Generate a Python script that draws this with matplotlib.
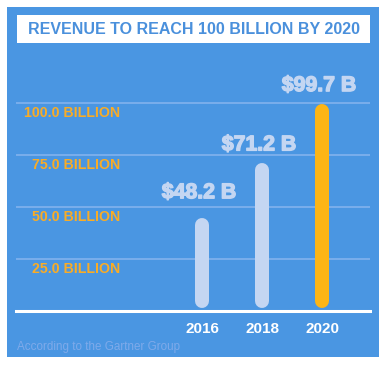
import matplotlib.pyplot as plt
import matplotlib.patches as mpatches
import matplotlib.transforms as mtransforms
import matplotlib.patheffects as pe

years = ['2016', '2018', '2020']
values = [48.2, 71.2, 99.7]          # values printed above the bars
bar_heights = [44.7, 71.2, 99.7]     # heights the bars are drawn to
value_labels = ['$48.2 B', '$71.2 B', '$99.7 B']
grid_values = [25, 50, 75, 100]
grid_labels = ['25.0 BILLION', '50.0 BILLION', '75.0 BILLION', '100.0 BILLION']

_blue = '#4a96e2'
_bar_colors = ['#c4d6f2', '#c4d6f2', '#fdb515']
_orange = '#f9ac26'

plt.rcParams['font.family'] = ['Liberation Sans', 'DejaVu Sans']

W, H = 386, 365
fig = plt.figure(figsize=(W / 100, H / 100), dpi=100, facecolor='white')


def px(x0, y0, x1, y1):
    # pixel box (top-left origin) -> figure fraction rect
    return [x0 / W, 1 - y1 / H, (x1 - x0) / W, (y1 - y0) / H]


# background panel and title box
r = px(7, 7, 379, 357)
fig.patches.append(mpatches.Rectangle((r[0], r[1]), r[2], r[3], transform=fig.transFigure,
                                      facecolor=_blue, edgecolor='none', zorder=-2))
r = px(17, 15, 370, 43)
fig.patches.append(mpatches.Rectangle((r[0], r[1]), r[2], r[3], transform=fig.transFigure,
                                      facecolor='white', edgecolor='none', zorder=-1))
fig.text((17 + 370) / 2 / W, 1 - 29.5 / H, 'REVENUE TO REACH 100 BILLION BY 2020',
         ha='center', va='center', color='#4a90dc', fontsize=11.5, fontweight='bold')

# chart area: baseline at y=311 px, 2.08 px per billion
ax = fig.add_axes(px(16, 80, 370, 311))
ax.set_zorder(5)
ax.set_facecolor('none')
ymax = (311 - 80) / 2.08
ax.set_ylim(0, ymax)
ax.set_xlim((16 - 202) / 60, (370 - 202) / 60)
for s in ax.spines.values():
    s.set_visible(False)

for g in grid_values:
    ax.axhline(g, color='#7db0ec', linewidth=1.3, zorder=1)
ax.axhline(0, color='white', linewidth=2.2, zorder=3, clip_on=False)

# gridline labels sit just under each line, right-aligned
lab_tr = mtransforms.offset_copy(ax.transData, fig=fig, x=0, y=-10, units='dots')
for g, lab in zip(grid_values, grid_labels):
    ax.text((120 - 202) / 60, g, lab, transform=lab_tr, ha='right', va='center',
            color=_orange, fontsize=10.2, fontweight='bold', zorder=4)

# bars as thick round-capped lines
lw_px = 14
cap = (lw_px / 2) / 2.08
for i, (h, c) in enumerate(zip(bar_heights, _bar_colors)):
    ax.plot([i, i], [1.4 + cap, h - cap], color=c, linewidth=lw_px * 0.72,
            solid_capstyle='round', zorder=2)

# value labels (heavier look via a thin stroke)
for i, (v, lab) in enumerate(zip(values, value_labels)):
    ax.annotate(lab, (i, v), xytext=(-3, 18), textcoords='offset pixels',
                ha='center', va='center', color='#c4d6f2', fontsize=15.3,
                fontweight='bold', annotation_clip=False, zorder=4,
                path_effects=[pe.withStroke(linewidth=1.0, foreground='#c4d6f2')])

ax.set_yticks([])
ax.set_xticks(range(len(years)))
ax.set_xticklabels(years, color='white', fontsize=11, fontweight='bold')
ax.tick_params(axis='x', length=0, pad=8)

fig.text(17 / W, 1 - 347 / H, 'According to the Gartner Group', ha='left', va='center',
         color='#7eaaea', fontsize=8.4)

fig.savefig('out.png', dpi=100, facecolor='white')
